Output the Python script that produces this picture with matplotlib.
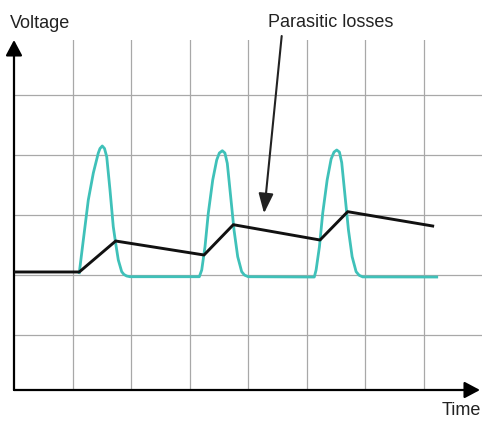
import matplotlib.pyplot as plt

plt.rcParams['font.family'] = ['Liberation Sans', 'DejaVu Sans']

# black curve: capacitor / output voltage with parasitic losses (time, voltage in grid units)
black_t = [0.0, 1.116, 1.738, 3.248, 3.749, 5.231, 5.704, 7.157]
black_v = [1.967, 1.967, 2.483, 2.250, 2.755, 2.500, 2.972, 2.733]

# teal curve: pulses
teal_t = [1.116, 1.185, 1.270, 1.356, 1.441, 1.470, 1.509, 1.547, 1.585, 1.641, 1.697, 1.738,
          1.783, 1.841, 1.880, 1.926, 1.983,
          3.168, 3.209, 3.265, 3.321, 3.397, 3.465, 3.510, 3.561, 3.605, 3.646, 3.704, 3.761,
          3.824, 3.892, 3.940, 4.005,
          5.133, 5.164, 5.221, 5.277, 5.353, 5.421, 5.470, 5.517, 5.563, 5.602, 5.660, 5.717,
          5.780, 5.848, 5.900, 5.961, 7.226]
teal_v = [1.955, 2.500, 3.167, 3.617, 3.950, 4.025, 4.067, 4.025, 3.888, 3.333, 2.722, 2.445,
          2.167, 1.972, 1.925, 1.900, 1.888,
          1.888, 2.000, 2.388, 2.945, 3.500, 3.833, 3.950, 3.988, 3.950, 3.778, 3.222, 2.667,
          2.222, 1.972, 1.915, 1.888,
          1.883, 2.000, 2.388, 2.945, 3.500, 3.850, 3.965, 4.000, 3.965, 3.790, 3.222, 2.667,
          2.222, 1.972, 1.912, 1.885, 1.883]

grid_x = [1, 2, 3, 4, 5, 6, 7]
grid_y = [0.917, 1.917, 2.917, 3.917, 4.917]

fig = plt.figure(figsize=(4.82, 4.22), dpi=100)
ax = fig.add_axes([14 / 482, 32 / 422, 468 / 482, 350 / 422])
ax.set_xlim(0, 8)
ax.set_ylim(0, 350 / 60)

for gx in grid_x:
    ax.axvline(gx, color='#a8a8a8', lw=0.9, zorder=1)
for gy in grid_y:
    ax.axhline(gy, color='#a8a8a8', lw=0.9, zorder=1)

ax.plot(teal_t, teal_v, color='#3fc1b9', lw=2.0, zorder=3, solid_joinstyle='round')
ax.plot(black_t, black_v, color='#111111', lw=2.1, zorder=4, solid_joinstyle='round')

for s in ax.spines.values():
    s.set_visible(False)
ax.set_xticks([])
ax.set_yticks([])

# axes with arrow heads
arrow = dict(arrowstyle='-|>,head_length=0.47,head_width=0.25', lw=1.6, color='black',
             shrinkA=0, shrinkB=0, mutation_scale=20)
ax.annotate('', xy=(0, 1.0), xytext=(0, 0), xycoords='axes fraction',
            arrowprops=arrow, annotation_clip=False)
ax.annotate('', xy=(0.9957, 0), xytext=(0, 0), xycoords='axes fraction',
            arrowprops=arrow, annotation_clip=False)

# parasitic losses pointer
ax.annotate('', xy=(4.274, 2.945), xytext=(4.576, 5.9),
            arrowprops=dict(arrowstyle='-|>,head_length=0.8,head_width=0.3', lw=1.5,
                            color='#222222', shrinkA=0, shrinkB=0, mutation_scale=15),
            annotation_clip=False)
ax.text(5.41, 6.055, 'Parasitic losses', ha='center', va='baseline', fontsize=13,
        color='#222222', clip_on=False)
ax.text(-0.068, 6.038, 'Voltage', ha='left', va='baseline', fontsize=13,
        color='#222222', clip_on=False)
ax.text(7.311, -0.417, 'Time', ha='left', va='baseline', fontsize=13,
        color='#222222', clip_on=False)

fig.savefig('out.png', dpi=100)
